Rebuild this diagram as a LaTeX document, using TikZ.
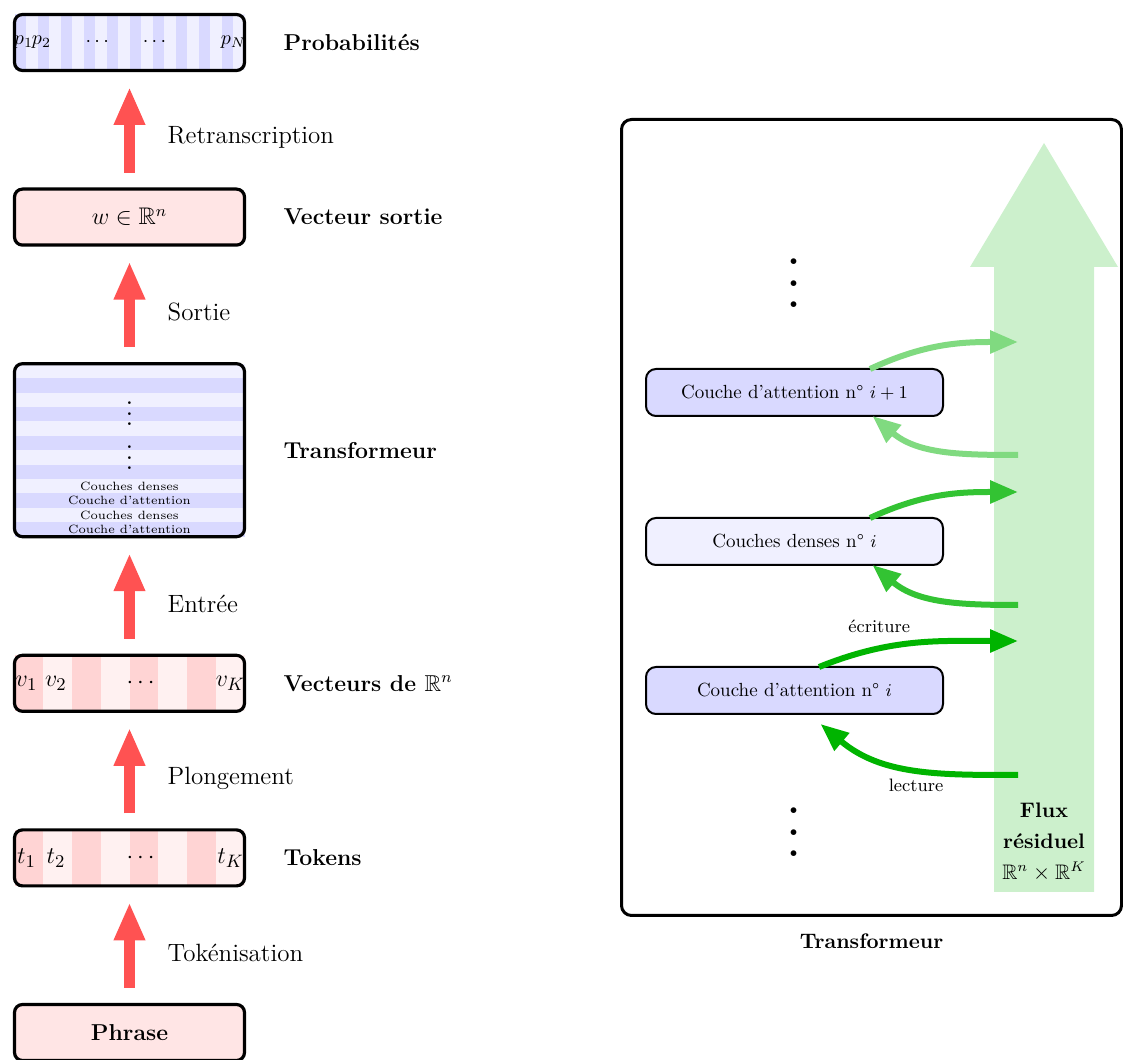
\documentclass[tikz,border=0pt]{standalone}
\usepackage{amsmath,amssymb}
\usetikzlibrary{arrows.meta,positioning,backgrounds}

\definecolor{rouge}{RGB}{255,82,82}
\definecolor{vert}{RGB}{0,180,0}

\begin{document}
\begin{tikzpicture}[x=1pt,y=1pt,node distance=59.3pt,
  boite/.style={draw,rounded corners=4pt,line width=1.6pt,minimum width=115pt,minimum height=28pt,inner sep=0pt,outer sep=0pt},
  gras/.style={font=\fontsize{11.5}{14}\selectfont\bfseries},
  etape/.style={font=\fontsize{12.5}{15}\selectfont,right=13pt,yshift=-4pt},
  fleche/.style={draw=rouge,line width=5.5pt,-{Triangle[length=19pt,width=14.5pt]},shorten <=8.25pt,shorten >=8.25pt},
  couche/.style={draw,rounded corners=5pt,line width=1pt,minimum width=148.5pt,minimum height=23.5pt,outer sep=0pt,font=\fontsize{9.5}{11}\selectfont},
  ecrit/.style={line width=3pt,-{Triangle[length=14pt,width=11pt]}},
  petit/.style={font=\fontsize{9}{11}\selectfont,text=black}]
\useasboundingbox (0,0) rectangle (561.5,529.5);

  \node[boite,fill=rouge!15,gras]  (phrase) at (64.75,13.25)    {Phrase};
  \node[boite]                     (tok)    [above=of phrase]  {};
  \node[boite]                     (vect)   [above=of tok]     {};
  \node[boite,minimum height=86.5pt] (transfo) [above=of vect] {};
  \node[boite,fill=rouge!15,font=\fontsize{12}{14}\selectfont] (w) [above=of transfo] {$w\in\mathbb{R}^n$};
  \node[boite]                     (proba)  [above=of w]       {};

  \node[gras] (ltok)     [right=16pt of tok]     {Tokens};
  \node[gras] (lvect)    [right=16pt of vect]    {Vecteurs de $\mathbb{R}^n$};
  \node[gras] (ltransfo) [right=16pt of transfo] {Transformeur};
  \node[gras] (lw)       [right=16pt of w]       {Vecteur sortie};
  \node[gras] (lproba)   [right=16pt of proba]   {Probabilités};

\begin{scope}[on background layer]
  \begin{scope}[shift={(proba.south west)}]
    \foreach \k in {0,...,9} {
      \fill[blue!15] (11.5*\k,0) rectangle ++(5.75,28);
      \fill[blue!6] (11.5*\k+5.75,0) rectangle ++(5.75,28);
    }
  \end{scope}
  \foreach \b in {tok,vect} {
    \begin{scope}[shift={(\b.south west)}]
      \foreach \k in {0,...,3} {
        \fill[rouge!25] (28.75*\k,0) rectangle ++(14.375,28);
        \fill[rouge!8] (28.75*\k+14.375,0) rectangle ++(14.375,28);
      }
    \end{scope}
  }
  \begin{scope}[shift={(transfo.south west)}]
    \foreach \k in {0,...,5} {
      \fill[blue!15] (0,14.4167*\k) rectangle ++(115,7.2083);
      \fill[blue!6] (0,14.4167*\k+7.2083) rectangle ++(115,7.2083);
    }
  \end{scope}
\end{scope}

\begin{scope}[shift={(proba.south west)},inner sep=0pt]
  \node (p1) at (4.5,14)   {$p_1$};
  \node (p2) at (13.5,14)  {$p_2$};
  \node (pp1) at (42.2,14) {$\cdots$};
  \node (pp2) at (70.8,14) {$\cdots$};
  \node (pN) at (109.5,14) {$p_N$};
\end{scope}
\begin{scope}[shift={(vect.south west)},inner sep=0pt,font=\fontsize{12.5}{15}\selectfont]
  \node (v1) at (6,14)    {$v_1$};
  \node (v2) at (20.7,14) {$v_2$};
  \node (vv) at (64,14)   {$\cdots$};
  \node (vK) at (108,14)  {$v_K$};
\end{scope}
\begin{scope}[shift={(tok.south west)},inner sep=0pt,font=\fontsize{12.5}{15}\selectfont]
  \node (t1) at (6,14)    {$t_1$};
  \node (t2) at (20.7,14) {$t_2$};
  \node (tt) at (64,14)   {$\cdots$};
  \node (tK) at (108,14)  {$t_K$};
\end{scope}
\begin{scope}[shift={(transfo.south west)},inner sep=0pt]
  \foreach \txt [count=\k from 0] in {Couche d'attention,Couches denses,Couche d'attention,Couches denses}
    \node[font=\fontsize{6}{7}\selectfont] (c\k) at (57.5,7.2083*\k+3.6) {\txt};
  \node[anchor=base,scale=1.3] (pts1) at (57.5,33.5) {$\vdots$};
  \node[anchor=base,scale=1.3] (pts2) at (57.5,55.5) {$\vdots$};
\end{scope}

\draw[fleche] (phrase)  -- node[etape] (e1) {Tokénisation}    (tok);
\draw[fleche] (tok)     -- node[etape] (e2) {Plongement}      (vect);
\draw[fleche] (vect)    -- node[etape] (e3) {Entrée}          (transfo);
\draw[fleche] (transfo) -- node[etape] (e4) {Sortie}          (w);
\draw[fleche] (w)       -- node[etape] (e5) {Retranscription} (proba);

  \node[draw,rounded corners=5pt,line width=1.5pt,minimum width=250pt,minimum height=398pt,outer sep=0pt] (bloc) at (435.75,270.75) {};
  \node[font=\fontsize{10.5}{13}\selectfont\bfseries] (lbloc) [below=5.5pt of bloc] {Transformeur};

\fill[vert!20] (497,83.5) -- (497,396) -- (485,396) -- (522,458) -- (559,396) -- (547,396) -- (547,83.5) -- cycle;
  \node[align=center,font=\fontsize{10.5}{15.5}\selectfont] (flux) at (522,108.5) {\textbf{Flux}\\\textbf{résiduel}\\$\mathbb{R}^n\times\mathbb{R}^K$};

  \node[couche,fill=blue!15] (att2) at (397.25,333.25)   {Couche d'attention n° $i+1$};
  \node[couche,fill=blue!6]  (dense) [below=51pt of att2] {Couches denses n° $i$};
  \node[couche,fill=blue!15] (att1) [below=51pt of dense] {Couche d'attention n° $i$};
  \node[anchor=base,scale=2.7,inner sep=0pt] (pts3) at (397,375.5) {$\vdots$};
  \node[anchor=base,scale=2.7,inner sep=0pt] (pts4) at (397,101)   {$\vdots$};

  \coordinate (ecr3) at (509,358.5);
  \coordinate (lec3) at (509,302);
  \coordinate (ecr2) at (509,283.5);
  \coordinate (lec2) at (509,227);
  \coordinate (ecr1) at (509,209);
  \coordinate (lec1) at (509,142);

\draw[ecrit,vert!50] ([xshift=37.75pt]att2.north) to[out=25,in=180] (ecr3);
\draw[ecrit,vert!50] (lec3) to[out=180,in=-40] ([xshift=39pt]att2.south);
\draw[ecrit,vert!80] ([xshift=37.75pt]dense.north) to[out=25,in=180] (ecr2);
\draw[ecrit,vert!80] (lec2) to[out=180,in=-40] ([xshift=39pt]dense.south);
\draw[ecrit,vert] ([xshift=12.25pt]att1.north) to[out=22,in=180] node[petit,pos=0.3,above=3pt] (lecr) {écriture} (ecr1);
\draw[ecrit,vert] (lec1) to[out=180,in=-40] node[petit,pos=0.48,below] (llec) {lecture} ([xshift=13pt,yshift=-5pt]att1.south);
\end{tikzpicture}
\end{document}
